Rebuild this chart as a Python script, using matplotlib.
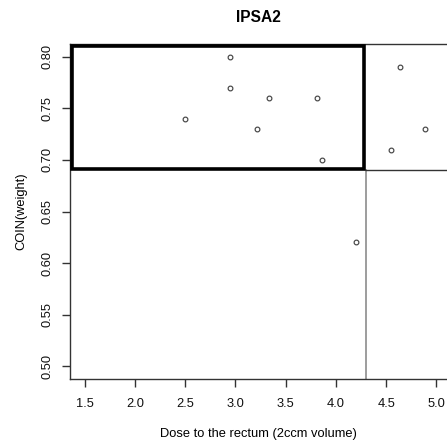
import matplotlib
matplotlib.use("Agg")
import matplotlib.pyplot as plt
from matplotlib.patches import Rectangle

plt.rcParams['font.family'] = ['Liberation Sans', 'DejaVu Sans']

# Rectum dose vs. COIN(weight)
dose = [2.95, 2.95, 3.33, 3.81, 2.50, 3.21, 3.86, 4.64, 4.89, 4.55, 4.20]
coin = [0.800, 0.770, 0.760, 0.760, 0.740, 0.730, 0.700, 0.790, 0.730, 0.710, 0.620]

dose_cut = 4.3
coin_cut = 0.69

x_ticks = [1.5, 2.0, 2.5, 3.0, 3.5, 4.0, 4.5, 5.0]
y_ticks = [0.50, 0.55, 0.60, 0.65, 0.70, 0.75, 0.80]

fig = plt.figure(figsize=(4.47, 4.45), dpi=100)
ax = fig.add_axes([0.1573, 0.1476, 0.8427, 0.7535])
ax.set_xlim(1.3567, 5.105)
ax.set_ylim(0.4874, 0.8123)

axis_col = '#333333'
for side in ['left', 'bottom', 'top']:
    ax.spines[side].set_color(axis_col)
    ax.spines[side].set_linewidth(1.0)
ax.spines['right'].set_visible(False)

ax.set_xticks(x_ticks)
ax.set_xticklabels([f"{v:.1f}" for v in x_ticks])
ax.set_yticks(y_ticks)
ax.set_yticklabels([f"{v:.2f}" for v in y_ticks])
ax.tick_params(axis='both', length=5.8, width=1.0, color=axis_col,
               labelsize=9.3, labelcolor='#111111')
ax.tick_params(axis='x', pad=7.5)
ax.tick_params(axis='y', pad=6)
for lab in ax.get_yticklabels():
    lab.set_rotation(90)
    lab.set_va('center')

# Threshold lines
ax.plot([dose_cut, dose_cut], [ax.get_ylim()[0], coin_cut], color='#8c8c8c', lw=1.2)
ax.plot([dose_cut, ax.get_xlim()[1]], [coin_cut, coin_cut], color=axis_col, lw=1.0)

# Highlighted region (low dose, high COIN)
ax.add_patch(Rectangle((1.3736, 0.6912), 4.277 - 1.3736, 0.8106 - 0.6912,
                       fill=False, edgecolor='black', lw=2.6, zorder=3))

ax.plot(dose, coin, linestyle='none', marker='o', markersize=3.4,
        markerfacecolor='white', markeredgecolor='#444444', markeredgewidth=0.85,
        zorder=4)

ax.set_title('IPSA2', fontsize=11.2, fontweight='bold', pad=16)
ax.set_xlabel('Dose to the rectum (2ccm volume)', fontsize=9.3, labelpad=13)
ax.set_ylabel('COIN(weight)', fontsize=9.3, labelpad=10.5)

fig.savefig('out.png', dpi=100)
